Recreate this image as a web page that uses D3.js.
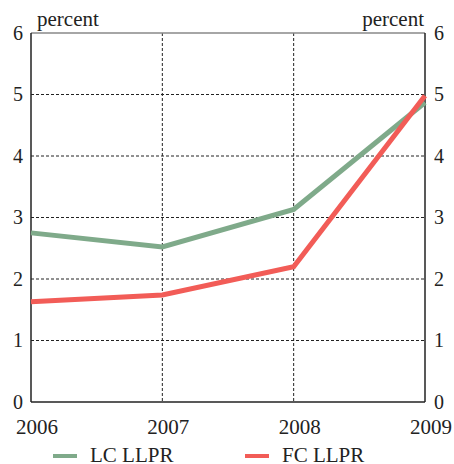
<!DOCTYPE html>
<html><head><meta charset="utf-8">
<script src="https://cdn.jsdelivr.net/npm/d3@7"></script>
<style>body{margin:0;background:#fff}svg{display:block}
svg text{font-family:"Liberation Serif",serif !important;fill:#222}
</style>
</head><body>
<script>
const years = [2006, 2007, 2008, 2009];
const lcLLPR = [2.75, 2.52, 3.13, 4.87];
const fcLLPR = [1.63, 1.74, 2.2, 4.98];
const yTicks = [0, 1, 2, 3, 4, 5, 6];
const seriesNames = ["LC LLPR", "FC LLPR"];
const seriesColors = ["#7faa8a", "#f25c57"];

const W = 454, H = 464;
const svg = d3.select("body").append("svg").attr("width", W).attr("height", H);
const x = d3.scaleLinear().domain([2006, 2009]).range([31, 425]);
const y = d3.scaleLinear().domain([0, 6]).range([402, 33]);

// gridlines
svg.append("g").selectAll("line").data(yTicks.filter(d => d > 0 && d < 6)).join("line")
  .attr("x1", x(2006)).attr("x2", x(2009)).attr("y1", d => y(d)).attr("y2", d => y(d))
  .attr("stroke", "#222").attr("stroke-width", 1).attr("stroke-dasharray", "3,2");
svg.append("g").selectAll("line").data(years.slice(1, 3)).join("line")
  .attr("x1", d => x(d)).attr("x2", d => x(d)).attr("y1", y(6)).attr("y2", y(0))
  .attr("stroke", "#222").attr("stroke-width", 1).attr("stroke-dasharray", "3,2");

// frame
svg.append("line").attr("x1", x(2006)).attr("x2", x(2009)).attr("y1", y(6)).attr("y2", y(6))
  .attr("stroke", "#888").attr("stroke-width", 1.5);
svg.append("line").attr("x1", x(2006)).attr("x2", x(2009)).attr("y1", y(0)).attr("y2", y(0))
  .attr("stroke", "#222").attr("stroke-width", 1.5);
svg.append("line").attr("x1", x(2006)).attr("x2", x(2006)).attr("y1", y(6)).attr("y2", y(0))
  .attr("stroke", "#222").attr("stroke-width", 1.5);
svg.append("line").attr("x1", x(2009)).attr("x2", x(2009)).attr("y1", y(6)).attr("y2", y(0))
  .attr("stroke", "#222").attr("stroke-width", 1.5);

// y labels
const yl = svg.append("g");
yl.selectAll("text.l").data(yTicks).join("text").attr("class", "l").style("font-size", "20px")
  .attr("x", 23).attr("y", d => y(d)).attr("dy", "0.33em").attr("text-anchor", "end").text(d => d);
yl.selectAll("text.r").data(yTicks).join("text").attr("class", "r").style("font-size", "20px")
  .attr("x", 434).attr("y", d => y(d)).attr("dy", "0.33em").attr("text-anchor", "start").text(d => d);
svg.append("text").attr("x", 37).attr("y", 26).style("font-size", "21px").text("percent");
svg.append("text").attr("x", 424).attr("y", 26).attr("text-anchor", "end").style("font-size", "21px").text("percent");

// x labels
svg.append("g").selectAll("text").data(years).join("text").style("font-size", "21px")
  .attr("x", d => x(d) + 6).attr("y", 434).attr("text-anchor", "middle").text(d => d);

// lines
const line = d3.line().x((d, i) => x(years[i])).y(d => y(d));
[lcLLPR, fcLLPR].forEach((s, i) => {
  svg.append("path").datum(s).attr("d", line).attr("fill", "none")
    .attr("stroke", seriesColors[i]).attr("stroke-width", 5);
});

// legend
const legX = [53, 245];
seriesNames.forEach((n, i) => {
  svg.append("line").attr("x1", legX[i]).attr("x2", legX[i] + 24).attr("y1", 456).attr("y2", 456)
    .attr("stroke", seriesColors[i]).attr("stroke-width", 4);
  svg.append("text").attr("x", legX[i] + 37).attr("y", 462).style("font-size", "21px").text(n);
});
</script>
</body></html>
